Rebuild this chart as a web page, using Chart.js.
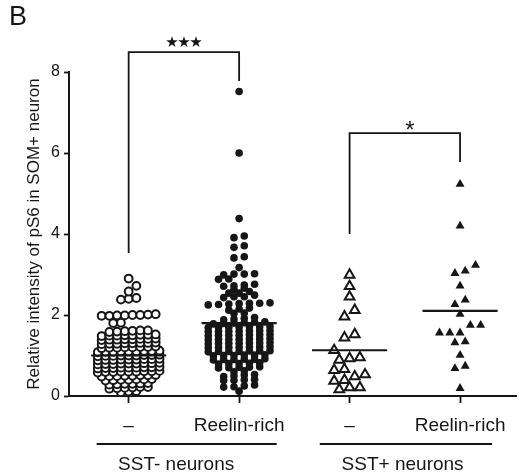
<!DOCTYPE html>
<html lang="en">
<head>
  <meta charset="UTF-8">
  <title>pS6 in SOM+ neurons</title>
  <script src="https://cdn.jsdelivr.net/npm/chart.js"></script>
  <style>
    html, body { margin: 0; padding: 0; background: #fff; }
  </style>
</head>
<body>
  <canvas id="grafico" width="524" height="475"></canvas>

  <script>
    // Categories and labels
    const condiciones = ['–', 'Reelin-rich', '–', 'Reelin-rich'];
    const grupos = ['SST- neurons', 'SST+ neurons'];
    const yTicks = [0, 2, 4, 6, 8];

    // Relative intensity values, one array per group
    const sstNegControl = [
      2.90, 2.72, 2.58,
      2.38, 2.40, 2.42,
      1.98, 1.98, 1.99, 1.99, 2.00, 2.00, 2.01, 2.02,
      1.80, 1.81,
      1.58, 1.59, 1.60, 1.61, 1.62, 1.62,
      1.48, 1.49, 1.49, 1.50, 1.50, 1.51, 1.51, 1.52,
      1.38, 1.39, 1.39, 1.40, 1.40, 1.41, 1.41, 1.42,
      1.28, 1.29, 1.29, 1.30, 1.30, 1.31, 1.31, 1.32,
      1.18, 1.19, 1.19, 1.20, 1.20, 1.21, 1.21, 1.22,
      1.08, 1.09, 1.09, 1.10, 1.10, 1.10, 1.11, 1.11, 1.12,
      0.98, 0.99, 0.99, 1.00, 1.00, 1.00, 1.01, 1.01, 1.02,
      0.88, 0.89, 0.89, 0.90, 0.90, 0.90, 0.91, 0.91, 0.92,
      0.78, 0.79, 0.79, 0.80, 0.80, 0.80, 0.81, 0.81, 0.82,
      0.68, 0.69, 0.69, 0.70, 0.70, 0.70, 0.71, 0.71, 0.72,
      0.58, 0.59, 0.59, 0.60, 0.60, 0.60, 0.61, 0.61, 0.62,
      0.48, 0.49, 0.49, 0.50, 0.50, 0.51, 0.51, 0.52,
      0.38, 0.39, 0.40, 0.40, 0.41, 0.41, 0.42,
      0.28, 0.29, 0.30, 0.30, 0.31, 0.32,
      0.18, 0.19, 0.20, 0.21, 0.22, 0.22,
      0.09, 0.11, 0.12,
      0.00
    ];
    const sstNegReelin = [
      7.52, 6.00, 4.38,
      3.91, 3.95, 3.67, 3.71, 3.41, 3.44, 3.17,
      2.99, 3.01, 3.01, 3.02,
      2.88, 2.89,
      2.71, 2.72, 2.74, 2.76,
      2.63, 2.66,
      2.54, 2.54, 2.58,
      2.43, 2.45, 2.45, 2.49,
      2.25, 2.26, 2.27, 2.28, 2.29, 2.29, 2.30,
      2.12, 2.15, 2.17,
      2.04, 2.05,
      1.88, 1.90, 1.92, 1.94,
      1.78, 1.79, 1.80, 1.81, 1.82, 1.83,
      1.69, 1.70, 1.70, 1.71, 1.71, 1.72, 1.70,
      1.59, 1.60, 1.60, 1.61, 1.61, 1.62, 1.60,
      1.49, 1.50, 1.50, 1.51, 1.51, 1.52, 1.50,
      1.39, 1.40, 1.40, 1.41, 1.41, 1.42, 1.40,
      1.29, 1.30, 1.30, 1.31, 1.31, 1.32, 1.30,
      1.19, 1.20, 1.20, 1.21, 1.21, 1.22, 1.20,
      1.09, 1.10, 1.10, 1.11, 1.11, 1.12, 1.10,
      0.99, 1.00, 1.00, 1.01, 1.01, 1.02,
      0.89, 0.90, 0.90, 0.91, 0.91, 0.92,
      0.79, 0.80, 0.80, 0.81, 0.82,
      0.69, 0.70, 0.71, 0.71, 0.72,
      0.60, 0.62,
      0.48, 0.50, 0.52, 0.53,
      0.38, 0.39, 0.40, 0.41,
      0.22, 0.23, 0.25, 0.27,
      0.12
    ];
    const sstPosControl = [
      2.99, 2.71, 2.45, 2.12, 1.96, 1.52, 1.44, 1.13,
      0.95, 0.93, 0.89, 0.66, 0.64, 0.53, 0.48, 0.39, 0.37,
      0.21, 0.21, 0.16
    ];
    const sstPosReelin = [
      5.23, 4.20, 3.23, 3.09, 3.03, 2.72, 2.37, 2.26, 2.02,
      1.75, 1.75, 1.56, 1.56, 1.56, 1.34, 1.32, 1.01, 0.74, 0.68, 0.19
    ];
    // Mean lines as drawn in the figure
    const medias = [1.00, 1.80, 1.13, 2.10];

    // Significance brackets: pair, left foot, top, right foot, label
    const pares = [[0, 1], [2, 3]];
    const pieIzq = [3.53, 4.00];
    const techo = [8.49, 6.49];
    const pieDer = [7.78, 5.78];
    const signif = ['★★★', '*'];

    const tinta = '#161616';
    const fuente = '"Liberation Sans", Arial, sans-serif';

    // Row layout like a scatter dot plot: close values share a row, small rows are nudged aside
    function acomodar(valores, centro, sepPx, altoFila, pxX, pxY, minDist) {
      const orden = valores.slice().sort((a, b) => a - b);
      const puestos = [];
      const salida = [];
      let i = 0;
      while (i < orden.length) {
        let j = i + 1;
        while (j < orden.length && orden[j] - orden[i] < altoFila) j++;
        const fila = orden.slice(i, j);
        const base = fila.map((v, k) => ({ px: (k - (fila.length - 1) / 2) * sepPx, py: v * pxY }));
        let corr = 0;
        if (fila.length <= 3) {
          for (const t of [0, 0.5, -0.5, 1, -1, 1.5, -1.5]) {
            const libre = base.every(b => puestos.every(p => Math.hypot(p.px - (b.px + t * sepPx), p.py - b.py) >= minDist));
            if (libre) { corr = t * sepPx; break; }
          }
        }
        base.forEach((b, k) => {
          puestos.push({ px: b.px + corr, py: b.py });
          salida.push({ x: centro + (b.px + corr) / pxX, y: fila[k] });
        });
        i = j;
      }
      return salida;
    }

    const series = [
      { valores: sstNegControl, estilo: 'circle', radio: 3.9, relleno: '#fff', borde: 2, sep: 7.8, fila: 0.07, dist: 9 },
      { valores: sstNegReelin, estilo: 'circle', radio: 3.8, relleno: tinta, borde: 0, sep: 10.4, fila: 0.07, dist: 8 },
      { valores: sstPosControl, estilo: 'triangle', radio: 5.6, relleno: '#fff', borde: 2, sep: 10.4, fila: 0.2, dist: 10 },
      { valores: sstPosReelin, estilo: 'triangle', radio: 5.2, relleno: tinta, borde: 0, sep: 10.4, fila: 0.2, dist: 10 }
    ];

    const datasets = series.map(s => ({
      data: [],
      pointStyle: s.estilo,
      pointRadius: s.radio,
      pointBackgroundColor: s.relleno,
      pointBorderColor: tinta,
      pointBorderWidth: s.borde,
      order: 2
    }));

    // Mean bars
    medias.forEach((m, i) => {
      datasets.push({
        data: [{ x: i - 0.34, y: m }, { x: i + 0.34, y: m }],
        showLine: true, borderColor: tinta, borderWidth: 2.2, pointRadius: 0, order: 1
      });
    });

    // Brackets (allowed to run above the plot area)
    pares.forEach(([a, b], i) => {
      datasets.push({
        data: [{ x: a, y: pieIzq[i] }, { x: a, y: techo[i] }, { x: b, y: techo[i] }, { x: b, y: pieDer[i] }],
        showLine: true, borderColor: tinta, borderWidth: 1.8, pointRadius: 0, clip: false, order: 1
      });
    });

    const anotaciones = {
      id: 'anotaciones',
      afterDraw(chart) {
        const { ctx, scales: { x, y } } = chart;
        ctx.save();
        ctx.fillStyle = tinta;
        ctx.strokeStyle = tinta;

        ctx.font = '27px ' + fuente;
        ctx.textAlign = 'left';
        ctx.textBaseline = 'alphabetic';
        ctx.fillText('B', 9, 25);

        // significance labels
        ctx.textAlign = 'center';
        pares.forEach(([a, b], i) => {
          const cx = (x.getPixelForValue(a) + x.getPixelForValue(b)) / 2;
          const top = y.getPixelForValue(techo[i]);
          if (signif[i].includes('★')) {
            ctx.font = '15px "DejaVu Sans", sans-serif';
            ctx.textBaseline = 'middle';
            const marcas = [...signif[i]];
            marcas.forEach((m, k) => ctx.fillText(m, cx + (k - (marcas.length - 1) / 2) * 12, top - 9));
          } else {
            ctx.font = '24px ' + fuente;
            ctx.textBaseline = 'alphabetic';
            ctx.fillText(signif[i], cx + 5, top + 5);
          }
        });

        // group underlines and names
        const tramos = [[-0.29, 1.34], [1.73, 3.29]];
        const centros = [0.43, 2.48];
        ctx.lineWidth = 1.8;
        ctx.font = '19px ' + fuente;
        ctx.textBaseline = 'alphabetic';
        grupos.forEach((g, i) => {
          ctx.beginPath();
          ctx.moveTo(x.getPixelForValue(tramos[i][0]), 444);
          ctx.lineTo(x.getPixelForValue(tramos[i][1]), 444);
          ctx.stroke();
          ctx.fillText(g, x.getPixelForValue(centros[i]), 470);
        });
        ctx.restore();
      }
    };

    const chart = new Chart(document.getElementById('grafico'), {
      type: 'scatter',
      data: { datasets },
      options: {
        responsive: false,
        animation: false,
        layout: { padding: { top: 72, left: 20, right: 3, bottom: 0 } },
        plugins: { legend: { display: false }, tooltip: { enabled: false } },
        scales: {
          x: {
            type: 'linear',
            min: -0.54,
            max: 3.51,
            afterBuildTicks: s => { s.ticks = condiciones.map((c, i) => ({ value: i })); },
            afterFit: s => { s.height = 79; },
            ticks: {
              callback: v => condiciones[v],
              color: tinta,
              font: { size: 19, family: fuente },
              padding: 11,
              maxRotation: 0,
              autoSkip: false
            },
            grid: { drawOnChartArea: false, drawTicks: true, tickLength: 7, tickColor: tinta, tickWidth: 1.8 },
            border: { display: true, color: tinta, width: 2 }
          },
          y: {
            min: 0,
            max: 8,
            afterBuildTicks: s => { s.ticks = yTicks.map(v => ({ value: v })); },
            afterFit: s => { s.width = 49; },
            ticks: { color: tinta, font: { size: 16, family: fuente }, padding: 4 },
            grid: { drawOnChartArea: false, drawTicks: true, tickLength: 5, tickColor: tinta, tickWidth: 1.8 },
            border: { display: true, color: tinta, width: 2 },
            title: {
              display: true,
              text: 'Relative intensity of pS6 in SOM+ neuron',
              color: tinta,
              font: { size: 17, family: fuente },
              padding: { top: 4, bottom: 4 }
            }
          }
        }
      },
      plugins: [anotaciones]
    });

    // Spread the points once the scales know their pixel sizes
    const pxX = chart.scales.x.getPixelForValue(1) - chart.scales.x.getPixelForValue(0);
    const pxY = chart.scales.y.getPixelForValue(0) - chart.scales.y.getPixelForValue(1);
    series.forEach((s, i) => {
      chart.data.datasets[i].data = acomodar(s.valores, i, s.sep, s.fila, pxX, pxY, s.dist);
    });
    chart.update('none');
  </script>
</body>
</html>
